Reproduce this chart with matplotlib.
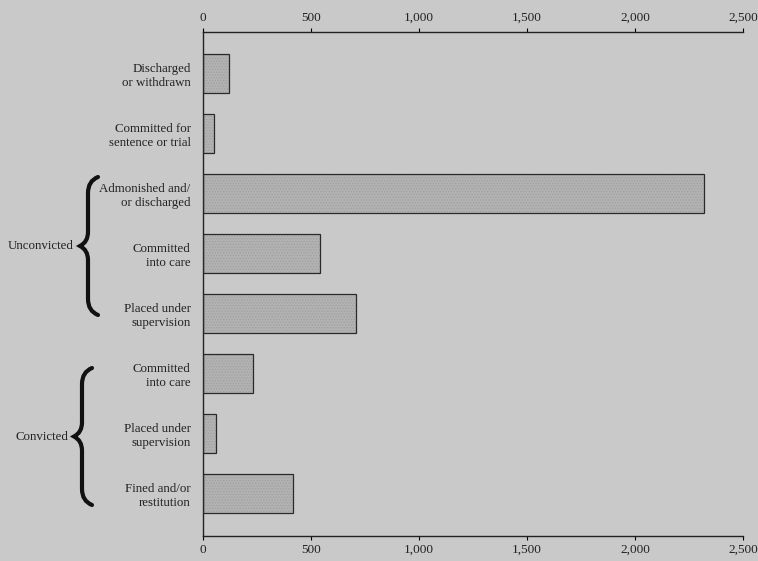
import matplotlib
matplotlib.use("Agg")
import matplotlib.pyplot as plt
from matplotlib.path import Path
from matplotlib.patches import PathPatch
from matplotlib.ticker import FuncFormatter

categories = [
    "Discharged\nor withdrawn",
    "Committed for\nsentence or trial",
    "Admonished and/\nor discharged",
    "Committed\ninto care",
    "Placed under\nsupervision",
    "Committed\ninto care",
    "Placed under\nsupervision",
    "Fined and/or\nrestitution",
]
values = [120, 50, 2320, 540, 710, 230, 60, 415]
xticks = [0, 500, 1000, 1500, 2000, 2500]
groups = ["Unconvicted", "Convicted"]

bg = "#c9c9c9"
plt.rcParams["font.family"] = ["Liberation Serif", "DejaVu Serif"]
plt.rcParams["hatch.linewidth"] = 0.6

fig = plt.figure(figsize=(7.58, 5.61), dpi=100, facecolor=bg)
ax = fig.add_axes([0.268, 0.045, 0.712, 0.898])
ax.set_facecolor(bg)

y = list(range(len(categories)))
# stippled fill
ax.barh(y, values, height=0.65, color="#b2b2b2", edgecolor="#a0a0a0",
        linewidth=0, hatch="......", zorder=2)
# outline
ax.barh(y, values, height=0.65, color="none", edgecolor="#2a2a2a",
        linewidth=0.9, zorder=3)
ax.set_xlim(0, 2500)
ax.set_ylim(len(categories) - 0.3, -0.7)
ax.set_yticks(y)
ax.set_yticklabels(categories, fontsize=9.3, color="#222222", linespacing=1.2)
ax.tick_params(axis="y", length=0, pad=9)
ax.set_xticks(xticks)
ax.xaxis.set_major_formatter(FuncFormatter(lambda v, p: f"{int(v):,}"))
ax.tick_params(axis="x", top=True, bottom=True, labeltop=True, labelbottom=True,
               direction="out", length=3, width=0.8, labelsize=9.5,
               labelcolor="#222222", pad=3)
for s in ["top", "bottom", "left"]:
    ax.spines[s].set_color("#222222")
    ax.spines[s].set_linewidth(1.0)
ax.spines["right"].set_visible(False)

# overlay in pixel coordinates for braces and group labels
ov = fig.add_axes([0, 0, 1, 1], facecolor="none")
ov.set_xlim(0, 758)
ov.set_ylim(561, 0)
ov.axis("off")


def brace(xl, ytop, ybot, curl=10, tip=8):
    ym = (ytop + ybot) / 2
    verts = [
        (xl + curl, ytop),
        (xl, ytop + 4), (xl, ytop + 16),
        (xl, ym - 14),
        (xl, ym - 4), (xl - tip, ym),
        (xl, ym + 4), (xl, ym + 14),
        (xl, ybot - 16),
        (xl, ybot - 4), (xl + curl, ybot),
    ]
    codes = [Path.MOVETO, Path.CURVE3, Path.CURVE3, Path.LINETO,
             Path.CURVE3, Path.CURVE3, Path.CURVE3, Path.CURVE3,
             Path.LINETO, Path.CURVE3, Path.CURVE3]
    ov.add_patch(PathPatch(Path(verts, codes), fill=False, lw=3.0,
                           edgecolor="#111111", capstyle="round"))
    return ym


brace_px = [(88, 177, 315), (82, 368, 505)]
for name, (bx, yt, yb) in zip(groups, brace_px):
    ym = brace(bx, yt, yb)
    ov.text(bx - 14, ym, name, ha="right", va="center", fontsize=9.3,
            color="#222222")

fig.savefig("out.png", dpi=100, facecolor=bg)
